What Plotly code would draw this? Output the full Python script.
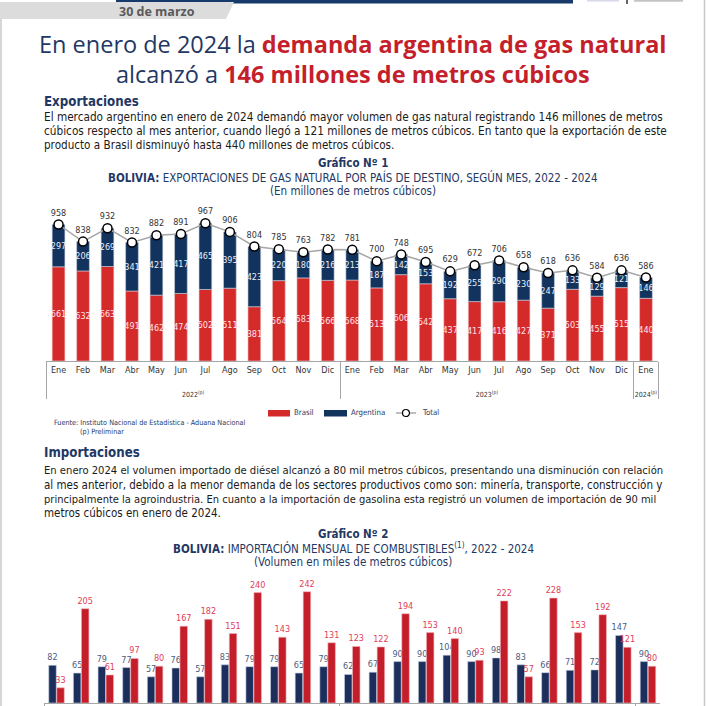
import plotly.graph_objects as go

W = H = 706

# ---------------- data ----------------
months = ["Ene", "Feb", "Mar", "Abr", "May", "Jun", "Jul", "Ago", "Sep", "Oct", "Nov", "Dic"] * 2 + ["Ene"]
year_labels = ["2022", "2023", "2024"]
years = [year_labels[0]] * 12 + [year_labels[1]] * 12 + [year_labels[2]]

brasil = [661, 632, 663, 491, 462, 474, 502, 511, 381, 564, 583, 566,
          568, 513, 606, 542, 437, 417, 416, 427, 371, 503, 455, 515,
          440]
argentina = [297, 206, 269, 341, 421, 417, 465, 395, 423, 220, 180, 216,
             213, 187, 142, 153, 192, 255, 290, 230, 247, 133, 129, 121,
             146]
total = [958, 838, 932, 832, 882, 891, 967, 906, 804, 785, 763, 782,
         781, 700, 748, 695, 629, 672, 706, 658, 618, 636, 584, 636,
         586]

gasolina = [82, 65, 79, 77, 57, 76, 57, 83, 79, 79, 65, 79,
            62, 67, 90, 90, 104, 90, 98, 83, 66, 71, 72, 147,
            90]
diesel = [33, 205, 61, 97, 80, 167, 182, 151, 240, 143, 242, 131,
          123, 122, 194, 153, 140, 93, 222, 57, 228, 153, 192, 121,
          80]

# ---------------- styles ----------------
NARROW = "DejaVu Sans Condensed, Liberation Sans Narrow, sans-serif"
TITLE_FONT = "Open Sans, sans-serif"
NAVY_T = "#1f3864"
RED_T = "#c41f2b"
RED1 = "#d52a2a"
NAVY1 = "#13335f"
NAVY2 = "#1c2e5c"
RED2 = "#c41e2a"
TXT = "#1a1a1a"


def X(p):
    return p / W


def Y(p):
    return 1 - p / H


yr_tick = [f"<br><span style='font-size:7px'>{y}<sup>(p)</sup></span>" for y in years]
xcat = [yr_tick, months]

fig = go.Figure()

# ---------- Chart 1 ----------
fig.add_trace(go.Bar(
    x=xcat, y=brasil, name="Brasil", marker=dict(color=RED1, line=dict(color="#f0c8c8", width=0.6)),
    width=0.52, text=brasil, textposition="inside", insidetextanchor="middle",
    constraintext="none", textangle=0,
    textfont=dict(family=NARROW, size=9, color="#ffe3ea"),
    xaxis="x", yaxis="y", showlegend=False))
fig.add_trace(go.Bar(
    x=xcat, y=argentina, base=brasil, name="Argentina",
    marker=dict(color=NAVY1, line=dict(color="#c8d0dc", width=0.6)),
    width=0.52, text=argentina, textposition="inside", insidetextanchor="middle",
    constraintext="none", textangle=0,
    textfont=dict(family=NARROW, size=9, color="#e8eef6"),
    xaxis="x", yaxis="y", showlegend=False))
fig.add_trace(go.Scatter(
    x=xcat, y=total, name="Total", mode="lines+markers+text",
    line=dict(color="#a6a6a6", width=1.5),
    marker=dict(size=9, color="white", line=dict(color="black", width=1.5)),
    text=total, textposition="top center",
    textfont=dict(family=NARROW, size=9, color="#333333"),
    cliponaxis=False, xaxis="x", yaxis="y", showlegend=False))

# ---------- Chart 2 ----------
fig.add_trace(go.Bar(
    x=xcat, y=gasolina, name="Gasolina", marker=dict(color=NAVY2, line=dict(color="#c8d0e0", width=0.6)),
    width=0.305, offset=-0.315, text=gasolina, textposition="outside", constraintext="none",
    textfont=dict(family=NARROW, size=9, color="#4a5d82"), cliponaxis=False,
    xaxis="x2", yaxis="y2", showlegend=False))
fig.add_trace(go.Bar(
    x=xcat, y=diesel, name="Diésel", marker=dict(color=RED2, line=dict(color="#f0b8c0", width=0.6)),
    width=0.305, offset=0.01, text=diesel, textposition="outside", constraintext="none",
    textfont=dict(family=NARROW, size=9, color="#e0405a"), cliponaxis=False,
    xaxis="x2", yaxis="y2", showlegend=False))

axis_common = dict(type="multicategory", range=[-0.5, 24.5], showline=True, linecolor="#a6a6a6",
                   linewidth=1, showgrid=False, zeroline=False,
                   ticks="outside", ticklen=4, tickcolor="rgba(0,0,0,0)",
                   showdividers=True, dividercolor="#a6a6a6", dividerwidth=1,
                   automargin=False, tickangle=0,
                   tickfont=dict(family=NARROW, size=9, color="#333333"))

fig.update_layout(
    width=W, height=H, margin=dict(l=0, r=0, t=0, b=0),
    paper_bgcolor="white", plot_bgcolor="white", barmode="overlay",
    xaxis=dict(domain=[X(46.3), X(658.2)], anchor="y", **axis_common),
    yaxis=dict(domain=[Y(361), Y(204.25)], range=[0, 1100], visible=False, anchor="x"),
    xaxis2=dict(domain=[X(44.2), X(660.3)], anchor="y2", **axis_common),
    yaxis2=dict(domain=[Y(703), Y(565)], range=[0, 300], visible=False, anchor="x2"),
)

shapes = []
# page borders
shapes.append(dict(type="line", xref="paper", yref="paper", x0=X(1), x1=X(1), y0=Y(19), y1=0,
                   line=dict(color="#c8c8c8", width=1.5)))
shapes.append(dict(type="line", xref="paper", yref="paper", x0=X(704.5), x1=X(704.5), y0=1, y1=0,
                   line=dict(color="#c8c8c8", width=1.5)))
# header bars
shapes.append(dict(type="rect", xref="paper", yref="paper", x0=X(116), x1=X(573), y0=Y(0), y1=Y(3.5),
                   fillcolor="#173a6a", line=dict(width=0)))
shapes.append(dict(type="path", xref="paper", yref="paper",
                   path=f"M {X(0)},{Y(2)} L {X(234)},{Y(2)} L {X(226)},{Y(19)} L {X(0)},{Y(19)} Z",
                   fillcolor="#dcdcdd", line=dict(width=0)))
shapes.append(dict(type="rect", xref="paper", yref="paper", x0=X(587), x1=X(619), y0=Y(0), y1=Y(1.5),
                   fillcolor="#d8d8ec", line=dict(width=0)))
shapes.append(dict(type="rect", xref="paper", yref="paper", x0=X(634), x1=X(683), y0=Y(0), y1=Y(1.8),
                   fillcolor="#c4c4c4", line=dict(width=0)))
shapes.append(dict(type="line", xref="paper", yref="paper", x0=X(627), x1=X(627), y0=Y(0), y1=Y(4),
                   line=dict(color="black", width=1.2)))
# legend chart 1
shapes.append(dict(type="rect", xref="paper", yref="paper", x0=X(268), x1=X(290), y0=Y(416.5), y1=Y(410),
                   fillcolor=RED1, line=dict(width=0)))
shapes.append(dict(type="rect", xref="paper", yref="paper", x0=X(324), x1=X(347), y0=Y(416.5), y1=Y(410),
                   fillcolor=NAVY1, line=dict(width=0)))
shapes.append(dict(type="line", xref="paper", yref="paper", x0=X(396), x1=X(416), y0=Y(413), y1=Y(413),
                   line=dict(color="#808080", width=1)))
shapes.append(dict(type="circle", xref="paper", yref="paper", x0=X(402.5), x1=X(409.5), y0=Y(416.5), y1=Y(409.5),
                   fillcolor="white", line=dict(color="black", width=1.2)))

annotations = []


def txt(x, y, text, size, color=TXT, family=NARROW, xanchor="left", **kw):
    annotations.append(dict(xref="paper", yref="paper", x=X(x), y=Y(y), text=text, showarrow=False,
                            xanchor=xanchor, yanchor="middle",
                            font=dict(size=size, color=color, family=family), **kw))


txt(157, 11.5, "<b>30 de marzo</b>", 12.5, color="#5a5a5a", family="Open Sans, sans-serif", xanchor="center")

txt(353, 44, f"En enero de 2024 la <b><span style='color:{RED_T}'>demanda argentina de gas natural</span></b>",
    23.5, color=NAVY_T, family=TITLE_FONT, xanchor="center")
txt(353, 74, f"alcanzó a <b><span style='color:{RED_T}'>146 millones de metros cúbicos</span></b>",
    23.5, color=NAVY_T, family=TITLE_FONT, xanchor="center")

txt(42, 101, "<b>Exportaciones</b>", 13.2, color=NAVY_T)
# (text, font size) — sizes differ slightly so justified lines span the full column width
p1 = [("El mercado argentino en enero de 2024 demandó mayor volumen de gas natural registrando 146 millones de metros", 11.7),
      ("cúbicos respecto al mes anterior, cuando llegó a 121 millones de metros cúbicos. En tanto que la exportación de este", 11.72),
      ("producto a Brasil disminuyó hasta 440 millones de metros cúbicos.", 11.6)]
for i, (line, sz) in enumerate(p1):
    txt(42, 117 + 14.2 * i, line, sz)

txt(353, 163, "<b>Gráfico Nº 1</b>", 11.5, color=NAVY_T, xanchor="center")
txt(353, 177, "<b>BOLIVIA:</b> EXPORTACIONES DE GAS NATURAL POR PAÍS DE DESTINO, SEGÚN MES, 2022 - 2024",
    11.5, color=NAVY_T, xanchor="center")
txt(353, 190.5, "(En millones de metros cúbicos)", 11.5, color=NAVY_T, xanchor="center")

txt(292, 413, "Brasil", 7.8, color=NAVY_T)
txt(349, 413, "Argentina", 7.8, color=NAVY_T)
txt(420, 413, "Total", 7.8, color=NAVY_T)
txt(52, 422.5, "Fuente: Instituto Nacional de Estadística - Aduana Nacional", 7.2, color=NAVY_T)
txt(78, 431.5, "(p) Preliminar", 7.2, color=NAVY_T)

txt(42, 452, "<b>Importaciones</b>", 13.2, color=NAVY_T)
p2 = [("En enero 2024 el volumen importado de diésel alcanzó a 80 mil metros cúbicos, presentando una disminución con relación", 11.15),
      ("al mes anterior, debido a la menor demanda de los sectores productivos como son: minería, transporte, construcción y", 11.5),
      ("principalmente la agroindustria. En cuanto a la importación de gasolina esta registró un volumen de importación de 90 mil", 11.05),
      ("metros cúbicos en enero de 2024.", 11.5)]
for i, (line, sz) in enumerate(p2):
    txt(42, 470.5 + 14.3 * i, line, sz)

txt(353, 534, "<b>Gráfico Nº 2</b>", 11.5, color=NAVY_T, xanchor="center")
txt(353, 548, "<b>BOLIVIA:</b> IMPORTACIÓN MENSUAL DE COMBUSTIBLES<sup>(1)</sup>, 2022 - 2024",
    11.5, color=NAVY_T, xanchor="center")
txt(353, 561.5, "(Volumen en miles de metros cúbicos)", 11.5, color=NAVY_T, xanchor="center")

fig.update_layout(shapes=shapes, annotations=annotations)
fig.write_html("out.html", config={"displayModeBar": False},
               post_script="document.body.style.margin='0';document.body.style.overflow='hidden';")
